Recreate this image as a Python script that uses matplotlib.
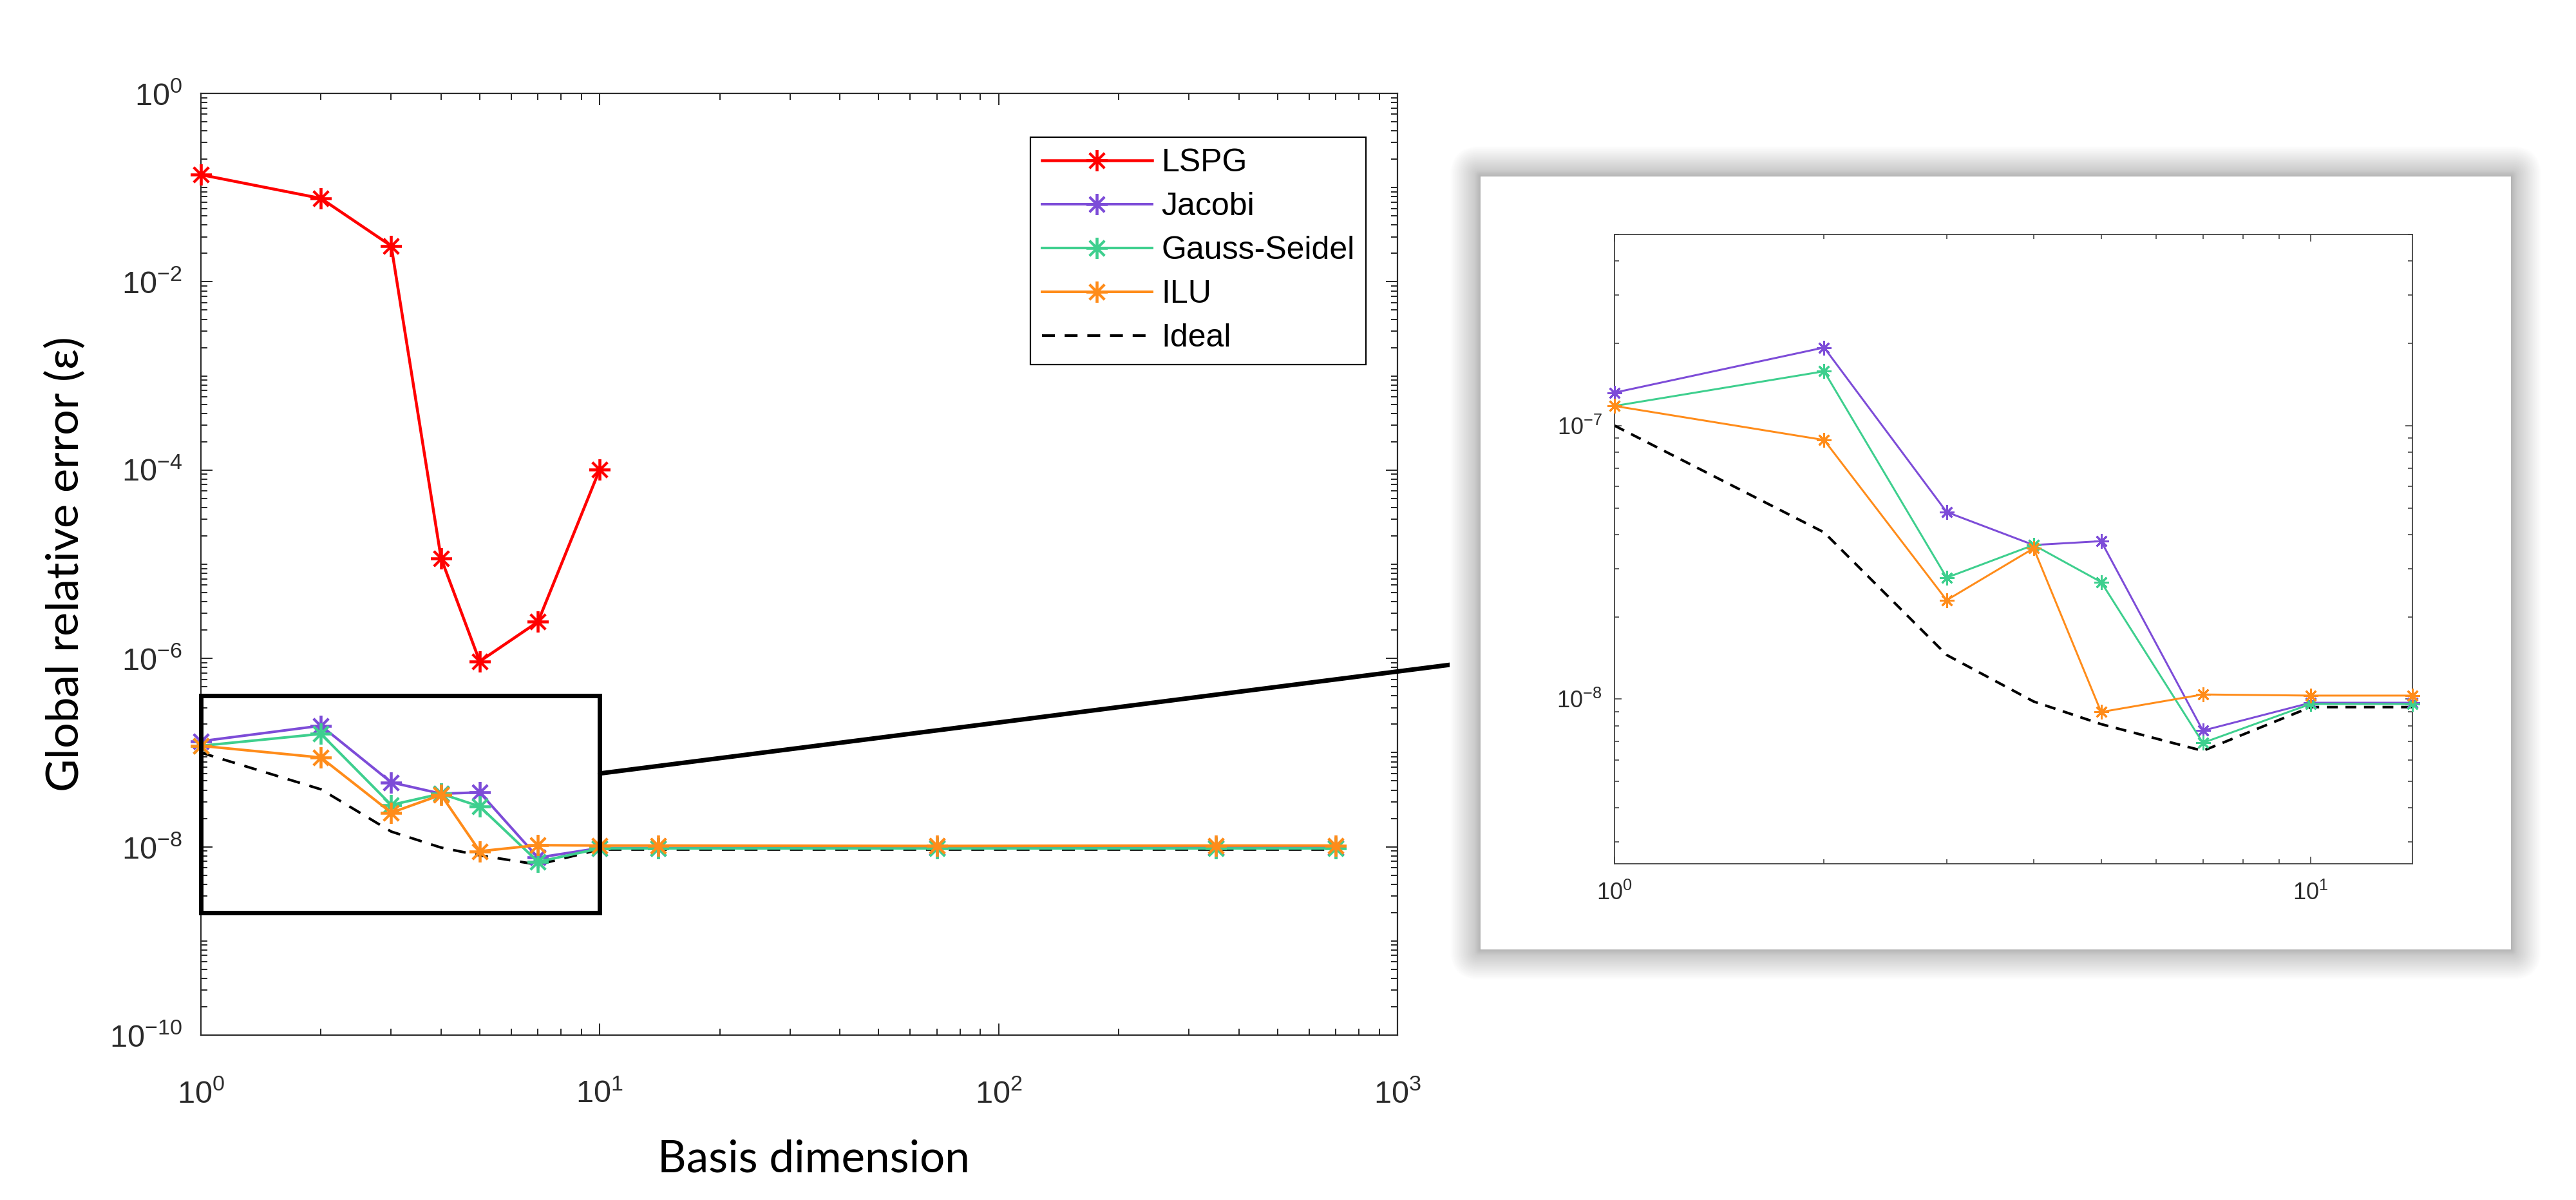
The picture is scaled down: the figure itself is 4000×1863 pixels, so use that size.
import matplotlib
matplotlib.use('Agg')
import matplotlib.pyplot as plt
import numpy as np
from matplotlib.patches import Rectangle, FancyBboxPatch, ConnectionPatch
from matplotlib.ticker import LogLocator, FixedLocator, FixedFormatter, NullFormatter
from matplotlib.transforms import IdentityTransform

plt.rcParams['font.family'] = ['Liberation Sans', 'DejaVu Sans']
plt.rcParams['mathtext.fontset'] = 'custom'
plt.rcParams['mathtext.rm'] = 'Liberation Sans'
plt.rcParams['mathtext.it'] = 'Liberation Sans:italic'
plt.rcParams['mathtext.default'] = 'regular'

# ---------------- data ----------------
series_names = ['LSPG', 'Jacobi', 'Gauss-Seidel', 'ILU', 'Ideal']
x_lspg = [1, 2, 3, 4, 5, 7, 10]
lspg = [0.137, 0.0767, 0.024, 1.16e-5, 9.3e-7, 2.45e-6, 1.02e-4]

x_basis = [1, 2, 3, 4, 5, 7, 10, 14, 70, 350, 700]
jacobi = [1.32e-7, 1.93e-7, 4.83e-8, 3.66e-8, 3.78e-8, 7.67e-9, 9.7e-9, 9.7e-9, 9.8e-9, 9.8e-9, 9.8e-9]
gauss_seidel = [1.18e-7, 1.58e-7, 2.78e-8, 3.66e-8, 2.68e-8, 6.92e-9, 9.6e-9, 9.6e-9, 9.6e-9, 9.6e-9, 9.6e-9]
ilu = [1.18e-7, 8.86e-8, 2.30e-8, 3.56e-8, 8.97e-9, 1.04e-8, 1.03e-8, 1.03e-8, 1.02e-8, 1.03e-8, 1.03e-8]
ideal = [1.0e-7, 4.07e-8, 1.45e-8, 9.8e-9, 8.1e-9, 6.47e-9, 9.35e-9, 9.35e-9, 9.35e-9, 9.35e-9, 9.35e-9]

main_xticks = [1, 10, 100, 1000]
main_xticklabels = ['$10^{0}$', '$10^{1}$', '$10^{2}$', '$10^{3}$']
main_yticks = [1e0, 1e-2, 1e-4, 1e-6, 1e-8, 1e-10]
main_yticklabels = ['$10^{0}$', '$10^{-2}$', '$10^{-4}$', '$10^{-6}$', '$10^{-8}$', '$10^{-10}$']
inset_xticks = [1, 10]
inset_xticklabels = ['$10^{0}$', '$10^{1}$']
inset_yticks = [1e-8, 1e-7]
inset_yticklabels = ['$10^{-8}$', '$10^{-7}$']

xlabel_text = 'Basis dimension'
ylabel_text = 'Global relative error ($\\epsilon$)'

# zoom box (data coords of the main axes)
zoom_x = [1, 10]
zoom_y = [2e-9, 4e-7]
inset_xlim = [1, 14]
inset_ylim = [2.5e-9, 5e-7]
connector_from = [10, 6e-8]

# ---------------- style ----------------
RED = '#ff0000'
PURPLE = '#7d4cd8'
GREEN = '#3ecf8e'
ORANGE = '#ff8c1a'
TICKC = '#2b2b2b'

W, H, DPI = 4000, 1863, 100
PT = 72.0 / DPI   # points per pixel
AST = (8, 2, 0)   # 8-spoke asterisk

fig = plt.figure(figsize=(W / DPI, H / DPI), dpi=DPI)
fig.patch.set_facecolor('white')


def fbox(x0, y0, x1, y1):
    return [x0 / W, 1 - y1 / H, (x1 - x0) / W, (y1 - y0) / H]


# ---------------- main axes ----------------
ax = fig.add_axes(fbox(312, 145, 2170, 1607))
ax.set_xscale('log')
ax.set_yscale('log')

mk = dict(marker=AST, ms=33 * PT, mew=3.8 * PT, clip_on=False)
ax.plot(x_lspg, lspg, color=RED, lw=4.5 * PT, label=series_names[0], zorder=4, **mk)
ax.plot(x_basis, jacobi, color=PURPLE, lw=4 * PT, label=series_names[1], zorder=3, **mk)
ax.plot(x_basis, gauss_seidel, color=GREEN, lw=4 * PT, label=series_names[2], zorder=3, **mk)
ax.plot(x_basis, ilu, color=ORANGE, lw=4 * PT, label=series_names[3], zorder=3, **mk)
ax.plot(x_basis, ideal, color='black', lw=4 * PT, ls='--', dashes=(5.0, 3.8),
        label=series_names[4], zorder=2)

ax.set_xlim(1, 1000)
ax.set_ylim(1e-10, 1)
ax.xaxis.set_major_locator(FixedLocator(main_xticks))
ax.xaxis.set_major_formatter(FixedFormatter(main_xticklabels))
ax.xaxis.set_minor_locator(LogLocator(base=10, subs=np.arange(2, 10), numticks=100))
ax.xaxis.set_minor_formatter(NullFormatter())
ax.yaxis.set_major_locator(FixedLocator(main_yticks))
ax.yaxis.set_major_formatter(FixedFormatter(main_yticklabels))
ax.yaxis.set_minor_locator(LogLocator(base=10, subs=np.arange(1, 10), numticks=100))
ax.yaxis.set_minor_formatter(NullFormatter())

ax.tick_params(which='both', direction='in', top=True, right=True, color=TICKC,
               width=2 * PT, labelcolor=TICKC, labelsize=35)
ax.tick_params(which='major', length=18 * PT)
ax.tick_params(which='minor', length=10 * PT)
ax.tick_params(axis='x', which='major', pad=50)
ax.tick_params(axis='y', which='major', pad=21)
for s in ax.spines.values():
    s.set_color(TICKC)
    s.set_linewidth(2.2 * PT)

# zoom rectangle
ax.add_patch(Rectangle((zoom_x[0], zoom_y[0]), zoom_x[1] - zoom_x[0], zoom_y[1] - zoom_y[0],
                       fill=False, ec='black', lw=7 * PT, zorder=6, clip_on=False))

leg = ax.legend(loc='upper left', bbox_to_anchor=(1600 / W, 1 - 213 / H),
                bbox_transform=fig.transFigure, fontsize=36, frameon=True, fancybox=False,
                edgecolor='black', framealpha=1, borderpad=0.35, handlelength=3.42,
                handletextpad=0.3, labelspacing=0.44, borderaxespad=0, numpoints=1)
leg.get_frame().set_linewidth(2.2 * PT)

# ---------------- inset panel with shadow ----------------
px0, py0, pw, ph = 2299, 274, 1600, 1200
for d in range(48, 0, -1):
    if d <= 10:
        g = 0.70 + 0.01 * d
    else:
        g = 0.80 + 0.20 * (d - 10) / 38.0
    p = FancyBboxPatch((px0 - d, H - (py0 + ph) - d), pw + 2 * d, ph + 2 * d,
                       boxstyle='round,pad=0,rounding_size=%d' % d,
                       transform=IdentityTransform(), fc=(g, g, g), ec='none', zorder=1.0)
    fig.add_artist(p)
fig.add_artist(Rectangle((px0, H - (py0 + ph)), pw, ph, transform=IdentityTransform(),
                         fc='white', ec='none', zorder=1.1))

# connector line
con = ConnectionPatch(xyA=connector_from, coordsA=ax.transData,
                      xyB=(px0 / W, 1 - 1026 / H), coordsB=fig.transFigure,
                      lw=7 * PT, color='black', shrinkA=0, shrinkB=0, zorder=0.5)
fig.add_artist(con)

# ---------------- inset axes ----------------
axi = fig.add_axes(fbox(2507, 364, 3746, 1341), zorder=2)
axi.set_xscale('log')
axi.set_yscale('log')
xb = np.array(x_basis)
m = xb <= inset_xlim[1]
for vals, col in [(jacobi, PURPLE), (gauss_seidel, GREEN), (ilu, ORANGE)]:
    axi.plot(xb[m], np.array(vals)[m], color=col, lw=3 * PT, marker=AST, ms=22 * PT,
             mew=3 * PT, zorder=3, clip_on=False)
axi.plot(xb[m], np.array(ideal)[m], color='black', lw=4 * PT, ls='--', dashes=(4.2, 3.0),
         zorder=2, clip_on=False)
axi.set_xlim(*inset_xlim)
axi.set_ylim(*inset_ylim)
axi.xaxis.set_major_locator(FixedLocator(inset_xticks))
axi.xaxis.set_major_formatter(FixedFormatter(inset_xticklabels))
axi.xaxis.set_minor_locator(LogLocator(base=10, subs=np.arange(2, 10), numticks=100))
axi.xaxis.set_minor_formatter(NullFormatter())
axi.yaxis.set_major_locator(FixedLocator(inset_yticks))
axi.yaxis.set_major_formatter(FixedFormatter(inset_yticklabels))
axi.yaxis.set_minor_locator(LogLocator(base=10, subs=np.arange(2, 10), numticks=100))
axi.yaxis.set_minor_formatter(NullFormatter())
axi.tick_params(which='both', direction='in', top=True, right=True, color='#404040',
                width=1.6 * PT, labelcolor=TICKC, labelsize=26)
axi.tick_params(which='major', length=11 * PT)
axi.tick_params(which='minor', length=7 * PT)
axi.tick_params(axis='x', which='major', pad=20)
axi.tick_params(axis='y', which='major', pad=14)
for s in axi.spines.values():
    s.set_color('#404040')
    s.set_linewidth(1.8 * PT)

# ---------------- axis titles (fitted to reference size) ----------------
lab_font = ['Lato', 'DejaVu Sans']
r = fig.canvas.get_renderer()


def fitted_size(text, target_px, base=50):
    t = fig.text(0, 0, text, fontsize=base, family=lab_font)
    w = t.get_window_extent(renderer=r).width
    t.remove()
    return base * target_px / w


fig.text(100 / W, 1 - 877 / H, ylabel_text, rotation=90, ha='center', va='center',
         fontsize=fitted_size(ylabel_text, 707), family=lab_font, color='black')
fig.text(1263 / W, 1 - 1800 / H, xlabel_text, ha='center', va='center',
         fontsize=fitted_size(xlabel_text, 485), family=lab_font, color='black')

fig.savefig('out.png', dpi=DPI, facecolor='white')
